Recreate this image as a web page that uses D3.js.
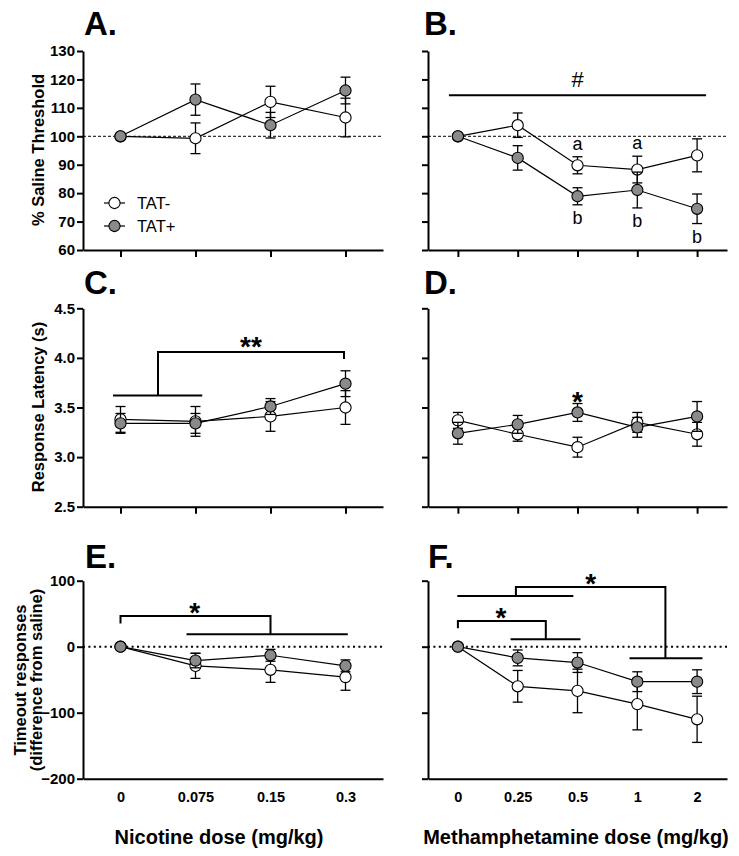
<!DOCTYPE html>
<html><head><meta charset="utf-8">
<script src="https://cdn.jsdelivr.net/npm/d3@7"></script>
<style>
html,body{margin:0;padding:0;background:#fff;}
svg{display:block;font-family:"Liberation Sans",Arial,sans-serif;}
</style></head>
<body>
<svg id="chart" width="739" height="856"></svg>
<script>
// ---------- data ----------
const nicDoses = ["0", "0.075", "0.15", "0.3"];
const methDoses = ["0", "0.25", "0.5", "1", "2"];
const seriesNames = ["TAT-", "TAT+"];

const thrTicks = [60, 70, 80, 90, 100, 110, 120, 130];
const latTicks = [2.5, 3.0, 3.5, 4.0, 4.5];
const toTicks = [-200, -100, 0, 100];

// % saline threshold
const thrNicNeg = [100, 99.3, 112.1, 106.6];
const thrNicNegSem = [0, 5.4, 5.5, 6.8];
const thrNicPos = [100, 112.9, 103.9, 116.1];
const thrNicPosSem = [0, 5.5, 4.5, 4.7];
const thrMethNeg = [100, 103.9, 89.8, 88.3, 93.3];
const thrMethNegSem = [0, 4.3, 3.0, 4.7, 5.8];
const thrMethPos = [100, 92.4, 78.9, 81.1, 74.5];
const thrMethPosSem = [0, 4.3, 3.0, 6.3, 5.2];

// response latency (s)
const latNicNeg = [3.38, 3.36, 3.41, 3.50];
const latNicNegSem = [0.13, 0.15, 0.15, 0.17];
const latNicPos = [3.34, 3.34, 3.51, 3.74];
const latNicPosSem = [0.10, 0.10, 0.08, 0.13];
const latMethNeg = [3.37, 3.23, 3.10, 3.35, 3.23];
const latMethNegSem = [0.08, 0.07, 0.10, 0.10, 0.12];
const latMethPos = [3.24, 3.33, 3.45, 3.30, 3.41];
const latMethPosSem = [0.11, 0.09, 0.09, 0.10, 0.15];

// timeout responses (difference from saline)
const toNicNeg = [0, -29, -35, -46];
const toNicNegSem = [0, 19, 19, 20];
const toNicPos = [0, -21, -13, -29];
const toNicPosSem = [0, 11, 9, 9];
const toMethNeg = [0, -60, -67, -87, -110];
const toMethNegSem = [0, 24, 33, 39, 35];
const toMethPos = [0, -17, -24, -53, -53];
const toMethPosSem = [0, 12, 15, 15, 18];

// ---------- layout ----------
const FONT = '"Liberation Sans",Arial,sans-serif';
const svg = d3.select("#chart");
const colL = [83, 383], colR = [428, 727];
const rowA = [250, 51], rowC = [506.7, 308.3], rowE = [778.7, 580.7];

function makePanel(opt) {
  const x = d3.scalePoint().domain(opt.cats).range(opt.xr).padding(0.5);
  const y = d3.scaleLinear().domain(opt.yDomain).range(opt.yr);
  const step = x.step();
  const xi = i => x(opt.cats[0]) + i * step;
  const g = svg.append("g");

  // reference line
  if (opt.refLine !== undefined) {
    g.append("line")
      .attr("x1", opt.xr[0]).attr("x2", opt.xr[1])
      .attr("y1", y(opt.refLine)).attr("y2", y(opt.refLine))
      .attr("stroke", "#000")
      .attr("stroke-width", opt.refStyle === "dot" ? 2 : 1)
      .attr("stroke-dasharray", opt.refStyle === "dot" ? "2,3.4" : "3,2");
  }

  // y axis
  const ya = d3.axisLeft(y).tickValues(opt.yTicks).tickSize(6).tickSizeOuter(0).tickPadding(2)
    .tickFormat(opt.yLabels ? opt.yFormat : () => "");
  const yg = g.append("g").attr("transform", `translate(${opt.xr[0]},0)`).call(ya);
  yg.select(".domain").attr("stroke-width", 2);
  yg.selectAll(".tick line").attr("stroke-width", 2);
  yg.selectAll(".tick text").attr("font-family", FONT).attr("font-weight", "bold")
    .attr("font-size", 15).attr("fill", "#000");

  // x axis
  const xa = d3.axisBottom(x).tickSize(opt.xLabels ? 0 : 7).tickSizeOuter(0).tickPadding(13)
    .tickFormat(opt.xLabels ? (d => d) : () => "");
  const xg = g.append("g").attr("transform", `translate(0,${opt.yr[0]})`).call(xa);
  xg.select(".domain").attr("stroke-width", 2);
  xg.selectAll(".tick line").attr("stroke-width", 2);
  xg.selectAll(".tick text").attr("font-family", FONT).attr("font-weight", "bold")
    .attr("font-size", 14.5).attr("fill", "#000");

  // series
  const ser = [
    { v: opt.neg, e: opt.negSem, fill: "#ffffff" },
    { v: opt.pos, e: opt.posSem, fill: "#8a8a8a" }
  ];
  ser.forEach(s => {
    const pts = opt.cats.map((c, i) => ({ c, v: s.v[i], e: s.e[i] }));
    const eb = g.append("g").attr("stroke", "#000").attr("stroke-width", 1.3);
    pts.filter(p => p.e > 0).forEach(p => {
      const cx = x(p.c);
      eb.append("line").attr("x1", cx).attr("x2", cx).attr("y1", y(p.v - p.e)).attr("y2", y(p.v + p.e));
      [p.v - p.e, p.v + p.e].forEach(yy => {
        eb.append("line").attr("x1", cx - 5).attr("x2", cx + 5).attr("y1", y(yy)).attr("y2", y(yy));
      });
    });
    g.append("path").datum(pts)
      .attr("d", d3.line().x(p => x(p.c)).y(p => y(p.v)))
      .attr("fill", "none").attr("stroke", "#000").attr("stroke-width", 1.2);
    g.selectAll(null).data(pts).enter().append("circle")
      .attr("cx", p => x(p.c)).attr("cy", p => y(p.v)).attr("r", 5.6)
      .attr("fill", s.fill).attr("stroke", "#000").attr("stroke-width", 1.1);
  });

  // panel title
  g.append("text").attr("x", opt.titleX).attr("y", opt.titleY).text(opt.title)
    .attr("font-family", FONT).attr("font-weight", "bold").attr("font-size", 33).attr("fill", "#000");

  return { g, x, y, xi };
}

function bracketPath(g, pts) {
  g.append("path").attr("d", d3.line()(pts)).attr("fill", "none")
    .attr("stroke", "#000").attr("stroke-width", 2);
}
function star(g, cx, cyCenter, txt) {
  g.append("text").attr("x", cx).attr("y", cyCenter + 15).attr("text-anchor", "middle")
    .attr("font-family", FONT).attr("font-weight", "bold").attr("font-size", 28).text(txt);
}
function yTitle(lines, cx, cy) {
  const t = svg.append("text").attr("transform", `translate(${cx},${cy}) rotate(-90)`)
    .attr("text-anchor", "middle").attr("font-family", FONT).attr("font-weight", "bold")
    .attr("font-size", 16.5).attr("fill", "#000");
  lines.forEach((l, i) => {
    t.append("tspan").attr("x", 0).attr("y", (i - (lines.length - 1) / 2) * 16 + 6).text(l);
  });
}

// ---------- Panel A ----------
const A = makePanel({ cats: nicDoses, xr: colL, yr: rowA, yDomain: [60, 130], yTicks: thrTicks,
  yLabels: true, yFormat: d3.format("d"), xLabels: false, refLine: 100, refStyle: "dash",
  neg: thrNicNeg, negSem: thrNicNegSem, pos: thrNicPos, posSem: thrNicPosSem,
  title: "A.", titleX: 84, titleY: 35 });
// legend
seriesNames.forEach((nm, i) => {
  const ly = 203 + i * 23;
  A.g.append("line").attr("x1", 104).attr("x2", 125).attr("y1", ly).attr("y2", ly)
    .attr("stroke", "#000").attr("stroke-width", 1.2);
  A.g.append("circle").attr("cx", 114.5).attr("cy", ly).attr("r", 5.6)
    .attr("fill", i === 0 ? "#ffffff" : "#8a8a8a").attr("stroke", "#000").attr("stroke-width", 1.1);
  A.g.append("text").attr("x", 137).attr("y", ly + 6).text(nm)
    .attr("font-family", FONT).attr("font-size", 16.5).attr("fill", "#000");
});

// ---------- Panel B ----------
const B = makePanel({ cats: methDoses, xr: colR, yr: rowA, yDomain: [60, 130], yTicks: thrTicks,
  yLabels: false, xLabels: false, refLine: 100, refStyle: "dash",
  neg: thrMethNeg, negSem: thrMethNegSem, pos: thrMethPos, posSem: thrMethPosSem,
  title: "B.", titleX: 424, titleY: 35 });
bracketPath(B.g, [[B.xi(-0.15), B.y(114.4)], [B.xi(4.15), B.y(114.4)]]);
B.g.append("text").attr("x", B.xi(2)).attr("y", B.y(114.4) - 8).attr("text-anchor", "middle")
  .attr("font-family", FONT).attr("font-size", 22).text("#");
[2, 3].forEach(i => {
  B.g.append("text").attr("x", B.xi(i)).attr("y", B.y(thrMethNeg[i] + thrMethNegSem[i]) - 7)
    .attr("text-anchor", "middle").attr("font-family", FONT).attr("font-size", 18).text("a");
});
[2, 3, 4].forEach(i => {
  B.g.append("text").attr("x", B.xi(i)).attr("y", B.y(thrMethPos[i] - thrMethPosSem[i]) + 19)
    .attr("text-anchor", "middle").attr("font-family", FONT).attr("font-size", 18).text("b");
});

// ---------- Panel C ----------
const C = makePanel({ cats: nicDoses, xr: colL, yr: rowC, yDomain: [2.5, 4.5], yTicks: latTicks,
  yLabels: true, yFormat: d3.format(".1f"), xLabels: false,
  neg: latNicNeg, negSem: latNicNegSem, pos: latNicPos, posSem: latNicPosSem,
  title: "C.", titleX: 84, titleY: 294 });
bracketPath(C.g, [[C.xi(-0.1), C.y(3.62)], [C.xi(1.09), C.y(3.62)]]);
bracketPath(C.g, [[C.xi(0.5), C.y(3.62)], [C.xi(0.5), C.y(4.06)], [C.xi(2.98), C.y(4.06)], [C.xi(2.98), C.y(3.99)]]);
star(C.g, C.xi(1.74), C.y(4.17), "**");

// ---------- Panel D ----------
const D = makePanel({ cats: methDoses, xr: colR, yr: rowC, yDomain: [2.5, 4.5], yTicks: latTicks,
  yLabels: false, xLabels: false,
  neg: latMethNeg, negSem: latMethNegSem, pos: latMethPos, posSem: latMethPosSem,
  title: "D.", titleX: 424, titleY: 294 });
star(D.g, D.xi(2), D.y(3.62), "*");

// ---------- Panel E ----------
const E = makePanel({ cats: nicDoses, xr: colL, yr: rowE, yDomain: [-200, 100], yTicks: toTicks,
  yLabels: true, yFormat: d3.format("d"), xLabels: true, refLine: 0, refStyle: "dot",
  neg: toNicNeg, negSem: toNicNegSem, pos: toNicPos, posSem: toNicPosSem,
  title: "E.", titleX: 85, titleY: 568 });
bracketPath(E.g, [[E.xi(0), E.y(35)], [E.xi(0), E.y(46.5)], [E.xi(2), E.y(46.5)], [E.xi(2), E.y(18.8)]]);
bracketPath(E.g, [[E.xi(0.88), E.y(18.8)], [E.xi(3.03), E.y(18.8)]]);
star(E.g, E.xi(0.99), E.y(60.6), "*");

// ---------- Panel F ----------
const F = makePanel({ cats: methDoses, xr: colR, yr: rowE, yDomain: [-200, 100], yTicks: toTicks,
  yLabels: false, xLabels: true, refLine: 0, refStyle: "dot",
  neg: toMethNeg, negSem: toMethNegSem, pos: toMethPos, posSem: toMethPosSem,
  title: "F.", titleX: 428, titleY: 568 });
bracketPath(F.g, [[F.xi(-0.01), F.y(76.8)], [F.xi(1.93), F.y(76.8)]]);
bracketPath(F.g, [[F.xi(0.97), F.y(76.8)], [F.xi(0.97), F.y(90.5)], [F.xi(3.47), F.y(90.5)], [F.xi(3.47), F.y(-17.6)]]);
bracketPath(F.g, [[F.xi(2.87), F.y(-17.6)], [F.xi(4.09), F.y(-17.6)]]);
star(F.g, F.xi(2.22), F.y(103.6), "*");
bracketPath(F.g, [[F.xi(0), F.y(27.9)], [F.xi(0), F.y(38.9)], [F.xi(1.47), F.y(38.9)], [F.xi(1.47), F.y(11.2)]]);
bracketPath(F.g, [[F.xi(0.88), F.y(11.2)], [F.xi(2.05), F.y(11.2)]]);
star(F.g, F.xi(0.72), F.y(53), "*");

// ---------- axis titles ----------
yTitle(["% Saline Threshold"], 38, 150);
yTitle(["Response Latency (s)"], 38, 407);
yTitle(["Timeout responses", "(difference from saline)"], 28, 680);

svg.append("text").attr("x", 219).attr("y", 844).attr("text-anchor", "middle")
  .attr("font-family", FONT).attr("font-weight", "bold").attr("font-size", 20).text("Nicotine dose (mg/kg)");
svg.append("text").attr("x", 576).attr("y", 844).attr("text-anchor", "middle")
  .attr("font-family", FONT).attr("font-weight", "bold").attr("font-size", 20).text("Methamphetamine dose (mg/kg)");
</script>
</body></html>
